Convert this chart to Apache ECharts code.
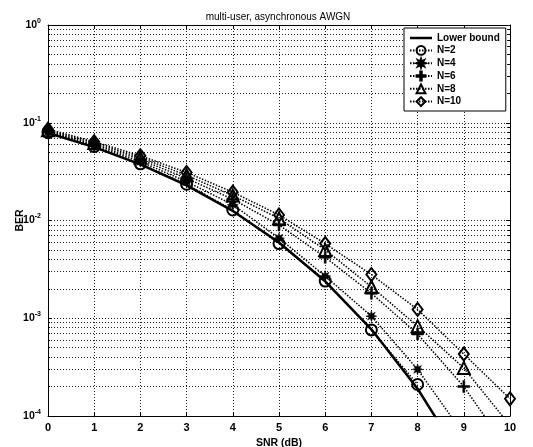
<!DOCTYPE html>
<html>
<head>
<meta charset="utf-8">
<script src="https://cdn.jsdelivr.net/npm/echarts@6/dist/echarts.min.js"></script>
<style>
  html, body { margin: 0; padding: 0; background: #fff; }
  #chart { width: 533px; height: 447px; }
</style>
</head>
<body>
<div id="chart"></div>
<script>
// SNR in dB
const snr = [0, 1, 2, 3, 4, 5, 6, 7, 8, 9, 10];

// Bit error rate per curve (same order as snr)
const lowerBound = [0.0786, 0.0563, 0.0375, 0.0229, 0.0125, 0.00595, 0.00239, 0.00077, 0.00019, 0.0000336];
const berN2  = [0.079, 0.057, 0.038, 0.0235, 0.0128, 0.0058, 0.0024, 0.00076, 0.00021];
const berN4  = [0.081, 0.058, 0.040, 0.025, 0.0145, 0.0066, 0.0027, 0.00105, 0.00030, 0.000065];
const berN6  = [0.082, 0.060, 0.042, 0.027, 0.0165, 0.0090, 0.0042, 0.0018, 0.00069, 0.00020, 0.000042];
const berN8  = [0.084, 0.062, 0.044, 0.029, 0.018, 0.0105, 0.0050, 0.0021, 0.00083, 0.00031, 0.000080];
const berN10 = [0.086, 0.064, 0.046, 0.031, 0.0195, 0.0114, 0.0058, 0.0028, 0.00123, 0.00043, 0.00015];

const seriesNames = ['Lower bound', 'N=2', 'N=4', 'N=6', 'N=8', 'N=10'];
const yTickExponents = [0, -1, -2, -3, -4];

const pairs = vals => vals.map((v, i) => [snr[i], v]);

// marker shapes
function starPath(n, rOut, rIn) {
  let d = '';
  for (let k = 0; k < 2 * n; k++) {
    const a = k * Math.PI / n - Math.PI / 2;
    const r = k % 2 ? rIn : rOut;
    d += (k ? 'L' : 'M') + (r * Math.cos(a)).toFixed(3) + ',' + (r * Math.sin(a)).toFixed(3);
  }
  return 'path://' + d + 'Z';
}
const asteriskSymbol = starPath(8, 6, 2.8);
const plusSymbol = 'path://M-1,-6H1V-1H6V1H1V6H-1V1H-6V-1H-1Z';

const FONT = 'Liberation Sans, Arial, sans-serif';
const gridDot = { color: '#222', type: [1, 2], width: 1 };

const hollow = { color: 'rgba(255,255,255,0)', borderColor: '#000', borderWidth: 2 };
const solidMark = { color: '#000', borderColor: '#000', borderWidth: 0.5 };

function dottedSeries(name, vals, symbol, size, itemStyle) {
  return {
    name, type: 'line', data: pairs(vals),
    symbol, symbolSize: size,
    showAllSymbol: true,
    lineStyle: { color: '#000', width: 1.5, type: [1.5, 1.5] },
    itemStyle,
    emphasis: { disabled: true },
    z: 3
  };
}

const chart = echarts.init(document.getElementById('chart'), null, { renderer: 'canvas' });
chart.setOption({
  animation: false,
  backgroundColor: '#fff',
  title: {
    text: 'multi-user, asynchronous AWGN',
    left: 273, top: 7, textAlign: 'center',
    textStyle: { fontFamily: FONT, fontSize: 10, fontWeight: 'normal', color: '#000' }
  },
  grid: { left: 48, right: 23, top: 25, bottom: 31, containLabel: false, outerBoundsMode: 'none' },
  legend: {
    orient: 'vertical',
    left: 404, top: 28,
    padding: [5, 6, 4, 5],
    itemGap: 2,
    itemWidth: 22, itemHeight: 11,
    backgroundColor: '#fff',
    borderColor: '#000', borderWidth: 1, borderRadius: 0,
    data: [
      { name: seriesNames[0], icon: 'path://M0,0H22V2.5H0Z' },
      seriesNames[1], seriesNames[2], seriesNames[3], seriesNames[4], seriesNames[5]
    ],
    textStyle: { fontFamily: FONT, fontSize: 10, fontWeight: 'bold', color: '#000' }
  },
  xAxis: [{
    type: 'value', min: 0, max: 10, interval: 1,
    name: 'SNR (dB)', nameLocation: 'middle', nameGap: 20,
    nameTextStyle: { fontFamily: FONT, fontSize: 10.5, fontWeight: 'bold', color: '#000' },
    axisLine: { show: true, onZero: false, lineStyle: { color: '#000', width: 1 } },
    axisTick: { show: true, inside: true, length: 4, lineStyle: { color: '#000' } },
    axisLabel: { margin: 6, fontFamily: FONT, fontSize: 11, fontWeight: 'bold', color: '#000' },
    splitLine: { show: true, lineStyle: gridDot }
  }, {
    type: 'value', min: 0, max: 10, interval: 1, position: 'top',
    axisLine: { show: true, onZero: false, lineStyle: { color: '#000', width: 1 } },
    axisTick: { show: true, inside: true, length: 4, lineStyle: { color: '#000' } },
    axisLabel: { show: false }, splitLine: { show: false }
  }],
  yAxis: [{
    type: 'log', logBase: 10, min: 1e-4, max: 1,
    name: 'BER', nameLocation: 'middle', nameGap: 22, nameRotate: 90,
    nameMoveOverlap: false,
    nameTextStyle: { fontFamily: FONT, fontSize: 10.5, fontWeight: 'bold', color: '#000' },
    axisLine: { show: true, onZero: false, lineStyle: { color: '#000', width: 1 } },
    axisTick: { show: true, inside: true, length: 4, lineStyle: { color: '#000' } },
    minorTick: { show: true, splitNumber: 9, length: 2, lineStyle: { color: '#000' } },
    minorSplitLine: { show: true, lineStyle: gridDot },
    axisLabel: {
      margin: 7,
      formatter: v => {
        const e = Math.round(Math.log10(v));
        return yTickExponents.includes(e) ? '{b|10}{s|' + e + '}' : '';
      },
      rich: {
        b: { fontFamily: FONT, fontSize: 10.5, fontWeight: 'bold', color: '#000' },
        s: { fontFamily: FONT, fontSize: 7, fontWeight: 'bold', color: '#000', padding: [0, 0, 8, 0] }
      }
    },
    splitLine: { show: true, lineStyle: gridDot }
  }, {
    type: 'log', logBase: 10, min: 1e-4, max: 1, position: 'right',
    axisLine: { show: true, onZero: false, lineStyle: { color: '#000', width: 1 } },
    axisTick: { show: true, inside: true, length: 4, lineStyle: { color: '#000' } },
    minorTick: { show: true, splitNumber: 9, length: 2, lineStyle: { color: '#000' } },
    axisLabel: { show: false }, splitLine: { show: false }
  }],
  series: [
    {
      name: 'Lower bound', type: 'line', data: pairs(lowerBound),
      symbol: 'none', clip: true,
      lineStyle: { color: '#000', width: 2.5 },
      itemStyle: { color: '#000' },
      emphasis: { disabled: true },
      z: 2
    },
    dottedSeries('N=2', berN2, 'circle', 11, hollow),
    dottedSeries('N=4', berN4, asteriskSymbol, 11, solidMark),
    dottedSeries('N=6', berN6, plusSymbol, 12, solidMark),
    dottedSeries('N=8', berN8, 'triangle', 12, hollow),
    dottedSeries('N=10', berN10, 'diamond', [10, 13], hollow)
  ]
});
</script>
</body>
</html>
